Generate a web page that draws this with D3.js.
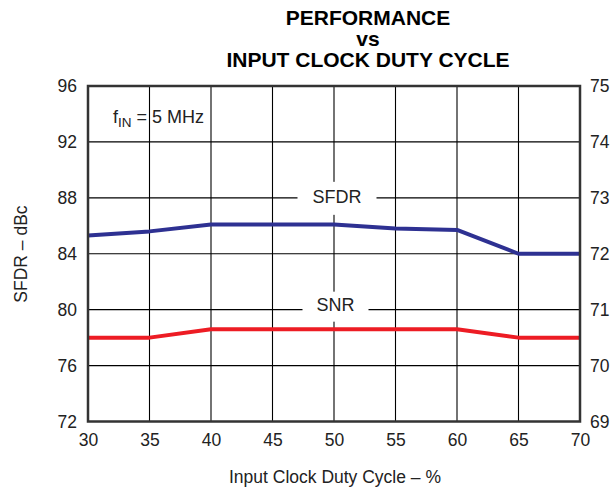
<!DOCTYPE html>
<html>
<head>
<meta charset="utf-8">
<script src="https://cdn.jsdelivr.net/npm/d3@7"></script>
<style>
  html, body { margin: 0; padding: 0; background: #fff; }
  svg { display: block; font-family: "Liberation Sans", Arial, Helvetica, sans-serif; }
</style>
</head>
<body>
<svg id="chart" width="613" height="490"></svg>
<script>
// Input clock duty cycle (%)
const dutyCycle = [30, 35, 40, 45, 50, 55, 60, 65, 70];
// SFDR (dBc), left axis
const sfdr = [85.3, 85.6, 86.1, 86.1, 86.1, 85.8, 85.7, 84.0, 84.0];
// SNR (dBFS), right axis
const snr = [70.5, 70.5, 70.65, 70.65, 70.65, 70.65, 70.65, 70.5, 70.5];

const xTicks = [30, 35, 40, 45, 50, 55, 60, 65, 70];
const leftTicks = [72, 76, 80, 84, 88, 92, 96];
const rightTicks = [69, 70, 71, 72, 73, 74, 75];

const titleLines = ["PERFORMANCE", "vs", "INPUT CLOCK DUTY CYCLE"];

const plot = { left: 88, right: 580, top: 86, bottom: 421.5 };

const svg = d3.select("#chart");

const x = d3.scaleLinear().domain([30, 70]).range([plot.left, plot.right]);
const yL = d3.scaleLinear().domain([72, 96]).range([plot.bottom, plot.top]);
const yR = d3.scaleLinear().domain([69, 75]).range([plot.bottom, plot.top]);

// Title
const title = svg.append("text")
  .attr("text-anchor", "middle")
  .attr("font-weight", "bold")
  .attr("font-size", 21)
  .attr("fill", "#000");
titleLines.forEach((t, i) => {
  title.append("tspan")
    .attr("x", 368)
    .attr("y", 25 + i * 20.8)
    .text(t);
});

// Grid lines
const grid = svg.append("g").attr("stroke", "#000").attr("stroke-width", 1.1);
grid.selectAll("line.v").data(xTicks.slice(1, -1)).join("line")
  .attr("class", "v")
  .attr("x1", d => x(d)).attr("x2", d => x(d))
  .attr("y1", plot.top).attr("y2", plot.bottom);
grid.selectAll("line.h").data(leftTicks.slice(1, -1)).join("line")
  .attr("class", "h")
  .attr("x1", plot.left).attr("x2", plot.right)
  .attr("y1", d => yL(d)).attr("y2", d => yL(d));

// Series lines
const lineL = d3.line().x((d, i) => x(dutyCycle[i])).y(d => yL(d));
const lineR = d3.line().x((d, i) => x(dutyCycle[i])).y(d => yR(d));

svg.append("path")
  .datum(sfdr)
  .attr("d", lineL)
  .attr("fill", "none")
  .attr("stroke", "#2e3192")
  .attr("stroke-width", 4)
  .attr("stroke-linejoin", "round");

svg.append("path")
  .datum(snr)
  .attr("d", lineR)
  .attr("fill", "none")
  .attr("stroke", "#ed1c24")
  .attr("stroke-width", 4)
  .attr("stroke-linejoin", "round");

// Series name labels on white boxes
function seriesLabel(text, cx, cy, boxW, boxH, dy) {
  svg.append("rect")
    .attr("x", cx - boxW / 2).attr("y", cy - boxH / 2)
    .attr("width", boxW).attr("height", boxH)
    .attr("fill", "#fff");
  svg.append("text")
    .attr("x", cx).attr("y", cy + dy)
    .attr("text-anchor", "middle")
    .attr("font-size", 18)
    .attr("fill", "#222")
    .text(text);
}
seriesLabel("SFDR", x(50) + 3, yL(88) + 0.5, 79, 33, 5);
seriesLabel("SNR", x(50) + 1.5, yL(80) - 3, 66, 30, 4);

// Frequency annotation
const fin = svg.append("text")
  .attr("x", 113).attr("y", 123)
  .attr("font-size", 18)
  .attr("fill", "#222");
fin.append("tspan").text("f");
fin.append("tspan").attr("font-size", 13.5).attr("dy", 4).text("IN");
fin.append("tspan").attr("dy", -4).text(" = 5 MHz");

// Frame
svg.append("rect")
  .attr("x", plot.left).attr("y", plot.top)
  .attr("width", plot.right - plot.left)
  .attr("height", plot.bottom - plot.top)
  .attr("fill", "none")
  .attr("stroke", "#333")
  .attr("stroke-width", 2.5);

// Axes (labels only; the frame draws the domain lines)
const axisFont = g => {
  g.select(".domain").remove();
  g.selectAll(".tick line").remove();
  g.selectAll(".tick text")
    .attr("font-size", 17.5)
    .attr("font-family", "Liberation Sans, Arial, sans-serif")
    .attr("fill", "#222");
};
const intFmt = d3.format("d");

svg.append("g")
  .attr("transform", `translate(0,${plot.bottom})`)
  .call(d3.axisBottom(x).tickValues(xTicks).tickFormat(intFmt).tickSize(0).tickPadding(12))
  .call(axisFont);

svg.append("g")
  .attr("transform", `translate(${plot.left},0)`)
  .call(d3.axisLeft(yL).tickValues(leftTicks).tickFormat(intFmt).tickSize(0).tickPadding(11))
  .call(axisFont);

svg.append("g")
  .attr("transform", `translate(${plot.right},0)`)
  .call(d3.axisRight(yR).tickValues(rightTicks).tickFormat(intFmt).tickSize(0).tickPadding(10))
  .call(axisFont);

// Axis titles
svg.append("text")
  .attr("x", 335).attr("y", 483)
  .attr("text-anchor", "middle")
  .attr("font-size", 17.5)
  .attr("fill", "#222")
  .text("Input Clock Duty Cycle – %");

svg.append("text")
  .attr("transform", "translate(27,254) rotate(-90)")
  .attr("text-anchor", "middle")
  .attr("font-size", 17.5)
  .attr("fill", "#222")
  .text("SFDR – dBc");
</script>
</body>
</html>
